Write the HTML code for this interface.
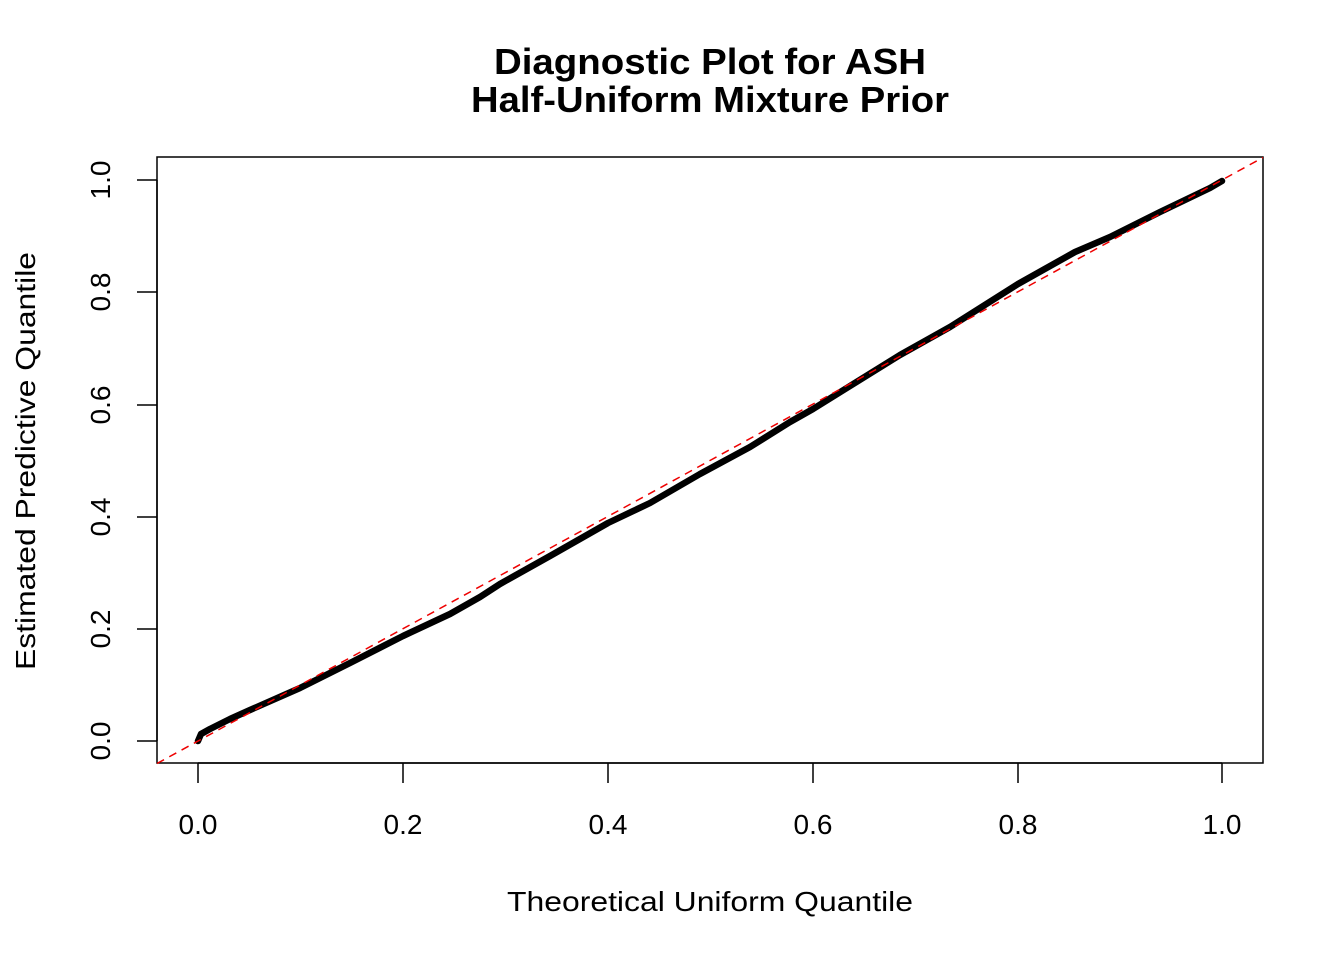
<!DOCTYPE html>
<html><head><meta charset="utf-8"><style>body{margin:0;background:#fff}svg{display:block}</style></head>
<body>
<svg width="1344" height="960" xmlns="http://www.w3.org/2000/svg" font-family="Liberation Sans, Arial, sans-serif">
<rect width="1344" height="960" fill="#fff"/>
<text x="710" y="74" font-size="36" font-weight="bold" text-anchor="middle" textLength="432" lengthAdjust="spacingAndGlyphs">Diagnostic Plot for ASH</text>
<text x="710" y="112" font-size="36" font-weight="bold" text-anchor="middle" textLength="478" lengthAdjust="spacingAndGlyphs">Half-Uniform Mixture Prior</text>
<rect x="157" y="157" width="1106" height="606" fill="none" stroke="#000" stroke-width="1.5"/>
<g stroke="#000" stroke-width="1.5">
<line x1="198" y1="763" x2="1222" y2="763"/>
<line x1="198" y1="763" x2="198" y2="783"/><line x1="403" y1="763" x2="403" y2="783"/><line x1="608" y1="763" x2="608" y2="783"/><line x1="813" y1="763" x2="813" y2="783"/><line x1="1018" y1="763" x2="1018" y2="783"/><line x1="1222" y1="763" x2="1222" y2="783"/>
<line x1="157" y1="741" x2="157" y2="180"/>
<line x1="137" y1="741" x2="157" y2="741"/><line x1="137" y1="629" x2="157" y2="629"/><line x1="137" y1="517" x2="157" y2="517"/><line x1="137" y1="405" x2="157" y2="405"/><line x1="137" y1="292" x2="157" y2="292"/><line x1="137" y1="180" x2="157" y2="180"/>
</g>
<g font-size="28" text-anchor="middle">
<text x="198" y="834">0.0</text><text x="403" y="834">0.2</text><text x="608" y="834">0.4</text><text x="813" y="834">0.6</text><text x="1018" y="834">0.8</text><text x="1222" y="834">1.0</text>
<text transform="translate(110,741) rotate(-90)">0.0</text>
<text transform="translate(110,629) rotate(-90)">0.2</text>
<text transform="translate(110,517) rotate(-90)">0.4</text>
<text transform="translate(110,405) rotate(-90)">0.6</text>
<text transform="translate(110,292) rotate(-90)">0.8</text>
<text transform="translate(110,180) rotate(-90)">1.0</text>
<text x="710" y="911" textLength="406" lengthAdjust="spacingAndGlyphs">Theoretical Uniform Quantile</text>
<text transform="translate(35,461) rotate(-90)" textLength="418" lengthAdjust="spacingAndGlyphs">Estimated Predictive Quantile</text>
</g>
<polyline fill="none" stroke="#000" stroke-width="6.5" stroke-linejoin="round" stroke-linecap="round"
points="198,741 201,734 210,729 230,719 250,710 300,688 350,663 403,636 450,614 480,597 500,584 550,556 608,523 650,503 700,474 750,447 790,422 813,409 850,386 900,355 950,327 1018,284 1075,252 1110,237 1160,212 1210,188 1222,181"/>
<line x1="157" y1="763.5" x2="1263" y2="157.5" stroke="#e00" stroke-width="1.5" stroke-dasharray="8,6"/>
</svg>
</body></html>
